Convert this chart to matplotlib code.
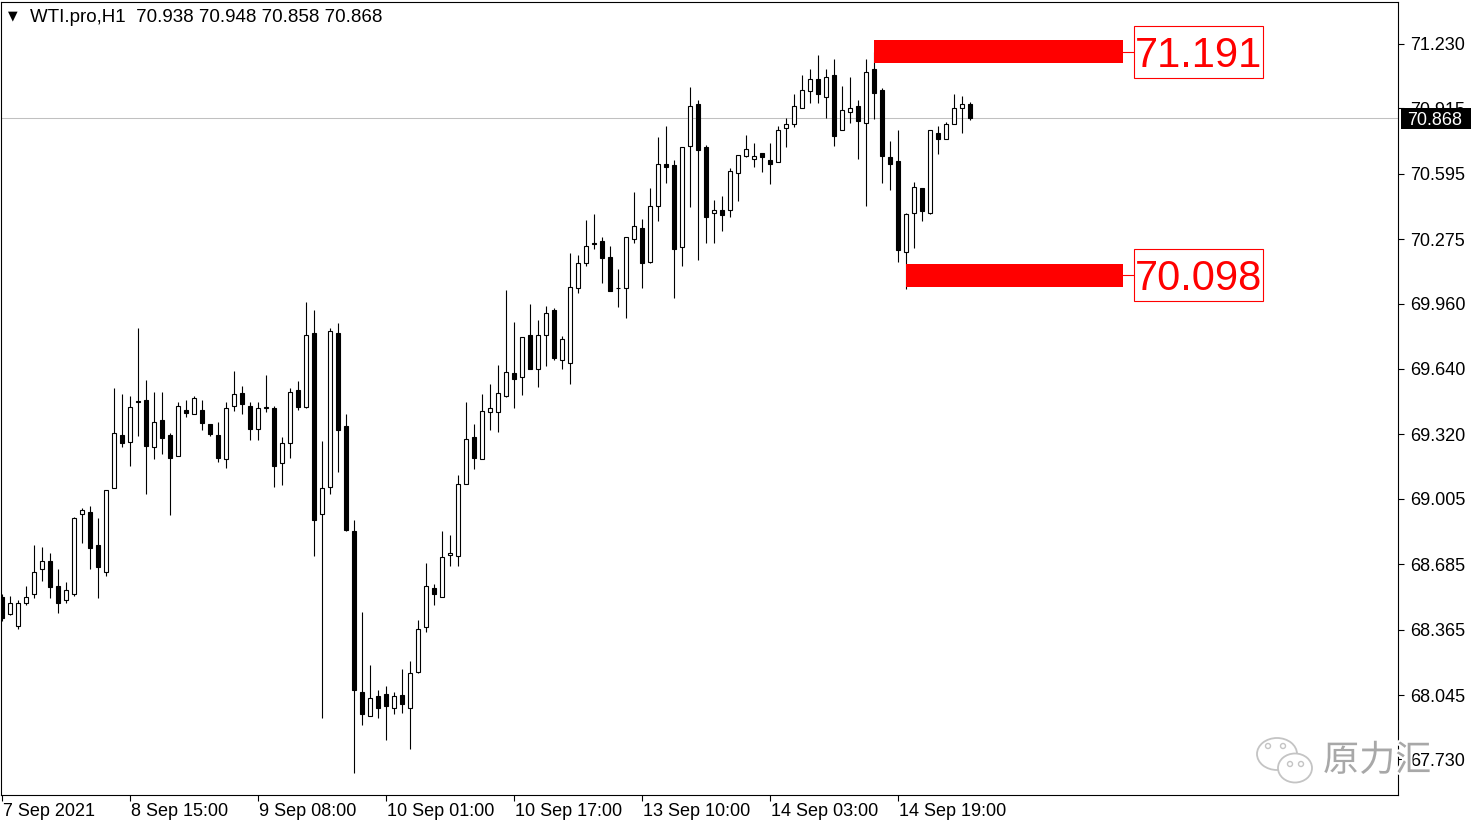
import matplotlib
matplotlib.use("Agg")
import matplotlib.pyplot as plt
from matplotlib.patches import Rectangle, Ellipse
import matplotlib.transforms as mtrans
import matplotlib.patheffects as pe
import numpy as np

# ---------------- data ----------------
title_text = "WTI.pro,H1  70.938 70.948 70.858 70.868"

opens = [68.526, 68.440, 68.383, 68.497, 68.538, 68.660, 68.701, 68.578, 68.510, 68.538,
         68.929, 68.940, 68.779, 68.648, 69.056, 69.317, 69.284, 69.482, 69.488, 69.257,
         69.390, 69.317, 69.216, 69.439, 69.418, 69.439, 69.371, 69.317, 69.198, 69.459,
         69.523, 69.459, 69.345, 69.447, 69.447, 69.178, 69.276, 69.538, 69.455, 69.815,
         68.929, 69.064, 69.815, 69.361, 68.847, 68.058, 67.943, 68.040, 68.048, 67.980,
         68.045, 67.980, 68.159, 68.376, 68.567, 68.526, 68.728, 68.726, 69.076, 69.306,
         69.198, 69.428, 69.428, 69.507, 69.619, 69.600, 69.805, 69.639, 69.805, 69.929,
         69.686, 69.671, 70.035, 70.157, 70.257, 70.266, 70.187, 70.036, 70.035, 70.275,
         70.329, 70.165, 70.438, 70.643, 70.638, 70.236, 70.732, 70.936, 70.728, 70.405,
         70.418, 70.418, 70.599, 70.684, 70.666, 70.695, 70.663, 70.654, 70.818, 70.837,
         70.915, 71.001, 71.059, 70.972, 71.078, 70.809, 70.896, 70.927, 70.844, 71.106,
         71.005, 70.679, 70.658, 70.214, 70.405, 70.525, 70.405, 70.793, 70.764, 70.839,
         70.915, 70.938]
highs = [68.539, 68.529, 68.510, 68.578, 68.779, 68.768, 68.738, 68.661, 68.596, 68.915,
         68.961, 68.970, 68.909, 69.048, 69.546, 69.518, 69.508, 69.840, 69.587, 69.526,
         69.526, 69.327, 69.480, 69.488, 69.510, 69.488, 69.371, 69.380, 69.480, 69.631,
         69.557, 69.480, 69.480, 69.611, 69.459, 69.306, 69.546, 69.583, 69.970, 69.929,
         69.287, 69.843, 69.864, 69.420, 68.901, 68.453, 68.192, 68.070, 68.089, 68.061,
         68.172, 68.212, 68.412, 68.692, 68.588, 68.847, 68.828, 69.121, 69.480, 69.371,
         69.518, 69.567, 69.660, 70.027, 69.869, 69.796, 69.957, 69.880, 69.949, 69.939,
         69.799, 70.209, 70.198, 70.369, 70.398, 70.288, 70.243, 70.129, 70.285, 70.508,
         70.373, 70.527, 70.774, 70.829, 70.663, 70.725, 71.018, 70.956, 70.737, 70.467,
         70.486, 70.622, 70.687, 70.785, 70.747, 70.695, 70.744, 70.829, 70.867, 70.984,
         71.078, 71.106, 71.176, 71.106, 71.155, 71.024, 71.067, 70.956, 71.155, 71.191,
         71.013, 70.757, 70.809, 70.405, 70.553, 70.525, 70.809, 70.829, 70.850, 70.985,
         70.975, 70.948]
lows = [68.407, 68.437, 68.367, 68.486, 68.520, 68.604, 68.520, 68.448, 68.497, 68.529,
        68.787, 68.660, 68.520, 68.627, 69.056, 69.257, 69.167, 69.312, 69.027, 69.198,
        69.224, 68.926, 69.216, 69.404, 69.418, 69.341, 69.312, 69.186, 69.157, 69.436,
        69.418, 69.292, 69.292, 69.428, 69.064, 69.072, 69.206, 69.439, 69.447, 68.727,
        67.931, 69.027, 69.137, 68.849, 67.662, 67.899, 67.943, 67.931, 67.825, 67.951,
        67.959, 67.780, 68.151, 68.355, 68.486, 68.526, 68.676, 68.676, 69.076, 69.149,
        69.198, 69.341, 69.333, 69.505, 69.447, 69.513, 69.639, 69.552, 69.657, 69.686,
        69.639, 69.566, 70.013, 70.146, 70.226, 70.062, 70.023, 69.945, 69.888, 70.255,
        70.035, 70.157, 70.366, 70.551, 69.986, 70.146, 70.434, 70.174, 70.255, 70.255,
        70.317, 70.385, 70.464, 70.676, 70.628, 70.605, 70.543, 70.654, 70.728, 70.825,
        70.915, 70.943, 70.943, 70.867, 70.731, 70.809, 70.845, 70.666, 70.438, 70.863,
        70.551, 70.516, 70.165, 70.032, 70.234, 70.366, 70.397, 70.692, 70.764, 70.839,
        70.793, 70.858]
closes = [68.420, 68.497, 68.497, 68.526, 68.648, 68.701, 68.575, 68.497, 68.559, 68.909,
          68.950, 68.766, 68.670, 69.048, 69.327, 69.276, 69.455, 69.478, 69.263, 69.382,
          69.304, 69.206, 69.459, 69.426, 69.497, 69.377, 69.322, 69.206, 69.447, 69.518,
          69.467, 69.345, 69.447, 69.455, 69.167, 69.276, 69.526, 69.452, 69.807, 68.901,
          69.056, 69.826, 69.341, 68.852, 68.070, 67.951, 68.029, 67.980, 67.992, 68.040,
          68.000, 68.151, 68.367, 68.578, 68.538, 68.719, 68.739, 69.076, 69.297, 69.206,
          69.436, 69.447, 69.524, 69.627, 69.590, 69.796, 69.639, 69.805, 69.916, 69.696,
          69.786, 70.043, 70.157, 70.243, 70.253, 70.185, 70.023, 70.034, 70.285, 70.340,
          70.157, 70.438, 70.643, 70.629, 70.226, 70.725, 70.927, 70.711, 70.385, 70.418,
          70.394, 70.610, 70.687, 70.715, 70.684, 70.676, 70.643, 70.809, 70.837, 70.927,
          71.005, 71.058, 70.984, 71.067, 70.781, 70.907, 70.915, 70.855, 71.094, 70.992,
          70.682, 70.643, 70.222, 70.397, 70.532, 70.413, 70.809, 70.764, 70.839, 70.915,
          70.935, 70.868]

x_tick_bars = [0, 16, 32, 48, 64, 80, 96, 112]
x_tick_labels = ["7 Sep 2021", "8 Sep 15:00", "9 Sep 08:00", "10 Sep 01:00",
                 "10 Sep 17:00", "13 Sep 10:00", "14 Sep 03:00", "14 Sep 19:00"]
y_tick_values = [71.230, 70.915, 70.595, 70.275, 69.960, 69.640, 69.320,
                 69.005, 68.685, 68.365, 68.045, 67.730]

last_price = 70.868
level_values = [71.191, 70.098]
level_start_bars = [109, 113]
watermark_text = "原力汇"

# ---------------- figure ----------------
plt.rcParams['font.family'] = ['Liberation Sans', 'DejaVu Sans']
W, H = 1481, 827
fig = plt.figure(figsize=(W / 100, H / 100), dpi=100)
fig.patch.set_facecolor('white')

def fx(px):
    return px / W

def fy(py):
    return 1 - py / H

ax_left, ax_right, ax_top, ax_bottom = 1, 1398, 2, 795
ax = fig.add_axes([fx(ax_left), fy(ax_bottom), (ax_right - ax_left) / W, (ax_bottom - ax_top) / H])
ax.set_facecolor('white')

bar_px = 8.0
x0_px = 2.0
ax.set_xlim((ax_left - x0_px) / bar_px, (ax_right - x0_px) / bar_px)
ppu = 204.4
top_price = 71.230 + 44 / ppu
ax.set_ylim(top_price - ax_bottom / ppu, top_price - ax_top / ppu)

o = np.array(opens); h = np.array(highs); l = np.array(lows); c = np.array(closes)
x = np.arange(len(o))
up = c >= o

# current price line
ax.axhline(last_price, color='#c0c0c0', lw=0.75, zorder=1)

# candles
ax.vlines(x, l, h, color='black', lw=0.8, zorder=2)
ax.bar(x[up], (c - o)[up], bottom=o[up], width=0.5, facecolor='white',
       edgecolor='black', linewidth=0.8, zorder=3)
ax.bar(x[~up], (o - c)[~up], bottom=c[~up], width=0.5, facecolor='black',
       edgecolor='black', linewidth=0.8, zorder=3)

# level markers
rect_end = (1123 - x0_px) / bar_px
box_left = (1134 - x0_px) / bar_px
box_right = (1263 - x0_px) / bar_px
half_band = 11.5 / ppu
half_box = 26 / ppu
txt_trans = ax.transData + mtrans.ScaledTranslation(0, -15 / 100, fig.dpi_scale_trans)
for lv, sb in zip(level_values, level_start_bars):
    ax.add_patch(Rectangle((sb, lv - half_band), rect_end - sb, 2 * half_band,
                           facecolor='#ff0000', edgecolor='none', zorder=4))
    ax.plot([rect_end, box_left], [lv, lv], color='#ff0000', lw=0.8, zorder=4)
    ax.add_patch(Rectangle((box_left, lv - half_box), box_right - box_left, 2 * half_box,
                           facecolor='white', edgecolor='#ff0000', lw=0.8, zorder=5))
    ax.text((box_left + box_right) / 2, lv, f"{lv:.3f}", transform=txt_trans,
            color='#ff0000', fontsize=30, ha='center', va='baseline', zorder=6)

# axes styling
for s in ax.spines.values():
    s.set_color('black')
    s.set_linewidth(0.8)

ax.yaxis.tick_right()
ax.set_yticks(y_tick_values)
ax.set_yticklabels([f"{v:.3f}" for v in y_tick_values])
ax.tick_params(axis='y', direction='out', length=4, width=0.8, pad=5,
               labelsize=13, colors='black')
ax.set_xticks(x_tick_bars)
ax.set_xticklabels(x_tick_labels, ha='left')
ax.tick_params(axis='x', direction='out', length=4, width=0.8, pad=2,
               labelsize=13, colors='black')
for t in ax.get_xticklabels():
    t.set_transform(t.get_transform() + mtrans.ScaledTranslation(1 / 100, 0, fig.dpi_scale_trans))

# title
fig.text(fx(8), fy(16), "\u25BC", fontsize=9, family='DejaVu Sans', va='center', ha='left')
fig.text(fx(30), fy(17), title_text, fontsize=13.5, va='center', ha='left')

# current price box
fig.patches.append(Rectangle((fx(1401), fy(129)), 70 / W, 21 / H, transform=fig.transFigure,
                             facecolor='black', edgecolor='none', zorder=5))
fig.text(fx(1407), fy(118.5), f"{last_price:.3f}", color='white', fontsize=13,
         va='center_baseline', ha='left', zorder=6)

# watermark
wm_col = '#c4c4c4'
for (cx, cy, w, hh) in [(1277, 754, 40, 32), (1295, 768, 34, 29)]:
    fig.patches.append(Ellipse((fx(cx), fy(cy)), w / W, hh / H, transform=fig.transFigure,
                               facecolor='white', edgecolor=wm_col, lw=1.3, zorder=7))
for (ex, ey) in [(1268, 746), (1283, 746), (1290, 764), (1301, 764)]:
    fig.patches.append(Ellipse((fx(ex), fy(ey)), 5 / W, 5 / H, transform=fig.transFigure,
                               facecolor='none', edgecolor=wm_col, lw=1.0, zorder=8))
fig.text(fx(1323), fy(761), watermark_text, family=['Noto Sans CJK SC', 'DejaVu Sans'],
         fontweight='light', fontsize=26, color='#a8a8a8', va='center', ha='left', zorder=9,
         path_effects=[pe.withStroke(linewidth=3, foreground='white')])

fig.savefig("out.png", dpi=100, facecolor='white')
